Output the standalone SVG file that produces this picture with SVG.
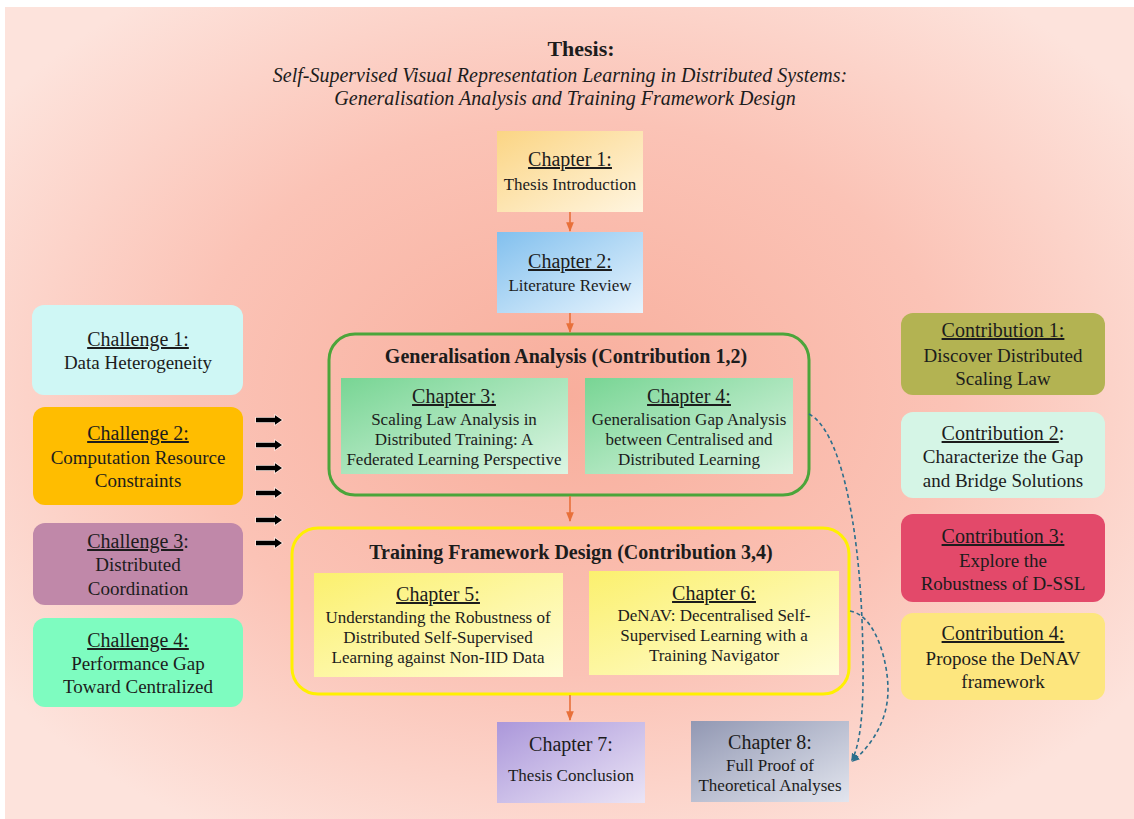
<svg xmlns="http://www.w3.org/2000/svg" width="1134" height="819" viewBox="0 0 1134 819">
  <defs>
    <radialGradient id="bg" cx="50%" cy="48%" r="62%">
      <stop offset="0" stop-color="#f8ae9c"/>
      <stop offset="0.55" stop-color="#fbc3b6"/>
      <stop offset="1" stop-color="#fde3dc"/>
    </radialGradient>
    <linearGradient id="gCh1" x1="0" y1="0" x2="1" y2="1">
      <stop offset="0" stop-color="#fbd584"/>
      <stop offset="1" stop-color="#fff5e0"/>
    </linearGradient>
    <linearGradient id="gCh2" x1="0" y1="0" x2="1" y2="1">
      <stop offset="0" stop-color="#82c0ee"/>
      <stop offset="1" stop-color="#e8f4fd"/>
    </linearGradient>
    <linearGradient id="gGreen" x1="0" y1="0" x2="1" y2="1">
      <stop offset="0" stop-color="#78d594"/>
      <stop offset="1" stop-color="#dcf5e3"/>
    </linearGradient>
    <linearGradient id="gYellow" x1="0" y1="0" x2="1" y2="1">
      <stop offset="0" stop-color="#fbf06e"/>
      <stop offset="1" stop-color="#fffdd6"/>
    </linearGradient>
    <linearGradient id="gCh7" x1="0" y1="0" x2="1" y2="1">
      <stop offset="0" stop-color="#ab97da"/>
      <stop offset="1" stop-color="#ebe5f6"/>
    </linearGradient>
    <linearGradient id="gCh8" x1="0" y1="0" x2="1" y2="1">
      <stop offset="0" stop-color="#9298b3"/>
      <stop offset="1" stop-color="#e2e5ee"/>
    </linearGradient>
    <marker id="mOrange" viewBox="0 0 10 10" refX="9" refY="5" markerWidth="6" markerHeight="6" orient="auto">
      <path d="M0,1 L10,5 L0,9 z" fill="#e8703a"/>
    </marker>
    <marker id="mTeal" viewBox="0 0 10 10" refX="8" refY="5" markerWidth="5" markerHeight="5" orient="auto">
      <path d="M0,1 L10,5 L0,9 z" fill="#2d6f8c"/>
    </marker>
    <!-- short block arrow used beside the challenges -->
    <path id="pushArrow" d="M0,-2.2 L19,-2.2 L19,-4.8 L26,0 L19,4.8 L19,2.2 L0,2.2 Z"/>
    <style>
      text { font-family: "Liberation Serif", "Times New Roman", serif; fill: #1c1c1c; text-anchor: middle; }
      .title { font-size: 22px; font-weight: bold; }
      .sub { font-size: 20px; font-style: italic; }
      .grp { font-size: 20px; font-weight: bold; }
      .hd { font-size: 20px; }
      .ul { text-decoration: underline; }
      .bd { font-size: 17px; }
      .side { font-size: 19px; }
      .box { stroke: none; }
      .frame { fill: none; stroke-width: 3; }
      .flow { stroke: #e8703a; stroke-width: 1.6; fill: none; marker-end: url(#mOrange); }
      .push { fill: #000; stroke: #fff4ef; stroke-width: 1.6; stroke-opacity: 0.8; paint-order: stroke; }
      .ref { stroke: #2d6f8c; stroke-width: 1.6; fill: none; stroke-dasharray: 4 3; marker-end: url(#mTeal); }
    </style>
  </defs>

  <!-- page background -->
  <rect x="0" y="0" width="1134" height="819" fill="#ffffff"/>
  <rect x="5" y="7" width="1129" height="812" fill="url(#bg)"/>

  <!-- heading -->
  <g id="heading">
    <text class="title" x="581" y="56">Thesis:</text>
    <text class="sub" x="560" y="82">Self-Supervised Visual Representation Learning in Distributed Systems:</text>
    <text class="sub" x="565" y="105">Generalisation Analysis and Training Framework Design</text>
  </g>

  <!-- group frames -->
  <g id="generalisation-analysis">
    <rect class="frame" x="329" y="334" width="480" height="161" rx="26" stroke="#4ba53a"/>
    <text class="grp" x="566" y="363">Generalisation Analysis (Contribution 1,2)</text>
  </g>
  <g id="training-framework-design">
    <rect class="frame" x="292" y="528" width="557" height="166" rx="26" stroke="#fff000"/>
    <text class="grp" x="571" y="559">Training Framework Design (Contribution 3,4)</text>
  </g>

  <!-- chapters -->
  <g id="chapter1">
    <rect class="box" x="497" y="131" width="146" height="81" fill="url(#gCh1)"/>
    <text class="hd ul" x="570" y="166">Chapter 1:</text>
    <text class="bd" x="570" y="190">Thesis Introduction</text>
  </g>
  <g id="chapter2">
    <rect class="box" x="497" y="232" width="146" height="81" fill="url(#gCh2)"/>
    <text class="hd ul" x="570" y="268">Chapter 2:</text>
    <text class="bd" x="570" y="291">Literature Review</text>
  </g>
  <g id="chapter3">
    <rect class="box" x="341" y="378" width="227" height="96" fill="url(#gGreen)"/>
    <text class="hd ul" x="454" y="403">Chapter 3:</text>
    <text class="bd" x="454" y="425">Scaling Law Analysis in</text>
    <text class="bd" x="454" y="445">Distributed Training: A</text>
    <text class="bd" x="454" y="465">Federated Learning Perspective</text>
  </g>
  <g id="chapter4">
    <rect class="box" x="585" y="378" width="208" height="96" fill="url(#gGreen)"/>
    <text class="hd ul" x="689" y="403">Chapter 4:</text>
    <text class="bd" x="689" y="425">Generalisation Gap Analysis</text>
    <text class="bd" x="689" y="445">between Centralised and</text>
    <text class="bd" x="689" y="465">Distributed Learning</text>
  </g>
  <g id="chapter5">
    <rect class="box" x="314" y="573" width="249" height="104" fill="url(#gYellow)"/>
    <text class="hd ul" x="438" y="601">Chapter 5:</text>
    <text class="bd" x="438" y="623">Understanding the Robustness of</text>
    <text class="bd" x="438" y="643">Distributed Self-Supervised</text>
    <text class="bd" x="438" y="663">Learning against Non-IID Data</text>
  </g>
  <g id="chapter6">
    <rect class="box" x="589" y="571" width="250" height="104" fill="url(#gYellow)"/>
    <text class="hd ul" x="714" y="600">Chapter 6:</text>
    <text class="bd" x="714" y="621">DeNAV: Decentralised Self-</text>
    <text class="bd" x="714" y="641">Supervised Learning with a</text>
    <text class="bd" x="714" y="661">Training Navigator</text>
  </g>
  <g id="chapter7">
    <rect class="box" x="497" y="722" width="148" height="81" fill="url(#gCh7)"/>
    <text class="hd" x="571" y="751">Chapter 7:</text>
    <text class="bd" x="571" y="781">Thesis Conclusion</text>
  </g>
  <g id="chapter8">
    <rect class="box" x="691" y="721" width="158" height="81" fill="url(#gCh8)"/>
    <text class="hd" x="770" y="749">Chapter 8:</text>
    <text class="bd" x="770" y="771">Full Proof of</text>
    <text class="bd" x="770" y="791">Theoretical Analyses</text>
  </g>

  <!-- challenges -->
  <g id="challenge1">
    <rect class="box" x="32" y="305" width="211" height="90" rx="12" fill="#cff7f5"/>
    <text class="hd ul" x="138" y="346">Challenge 1:</text>
    <text class="side" x="138" y="369">Data Heterogeneity</text>
  </g>
  <g id="challenge2">
    <rect class="box" x="33" y="407" width="210" height="98" rx="12" fill="#ffbd00"/>
    <text class="hd ul" x="138" y="440">Challenge 2:</text>
    <text class="side" x="138" y="464">Computation Resource</text>
    <text class="side" x="138" y="487">Constraints</text>
  </g>
  <g id="challenge3">
    <rect class="box" x="33" y="523" width="210" height="82" rx="12" fill="#c088a9"/>
    <text class="hd" x="138" y="548"><tspan class="ul">Challenge 3</tspan>:</text>
    <text class="side" x="138" y="571">Distributed</text>
    <text class="side" x="138" y="595">Coordination</text>
  </g>
  <g id="challenge4">
    <rect class="box" x="33" y="618" width="210" height="89" rx="12" fill="#7efcc0"/>
    <text class="hd ul" x="138" y="647">Challenge 4:</text>
    <text class="side" x="138" y="670">Performance Gap</text>
    <text class="side" x="138" y="693">Toward Centralized</text>
  </g>

  <!-- contributions -->
  <g id="contribution1">
    <rect class="box" x="901" y="313" width="204" height="82" rx="12" fill="#b3b352"/>
    <text class="hd ul" x="1003" y="337">Contribution 1:</text>
    <text class="side" x="1003" y="362">Discover Distributed</text>
    <text class="side" x="1003" y="385">Scaling Law</text>
  </g>
  <g id="contribution2">
    <rect class="box" x="901" y="412" width="204" height="86" rx="12" fill="#d5f5e6"/>
    <text class="hd" x="1003" y="440"><tspan class="ul">Contribution 2</tspan>:</text>
    <text class="side" x="1003" y="463">Characterize the Gap</text>
    <text class="side" x="1003" y="487">and Bridge Solutions</text>
  </g>
  <g id="contribution3">
    <rect class="box" x="901" y="514" width="204" height="88" rx="12" fill="#e3496a"/>
    <text class="hd ul" x="1003" y="543">Contribution 3:</text>
    <text class="side" x="1003" y="567">Explore the</text>
    <text class="side" x="1003" y="590">Robustness of D-SSL</text>
  </g>
  <g id="contribution4">
    <rect class="box" x="901" y="613" width="204" height="87" rx="12" fill="#fde67e"/>
    <text class="hd ul" x="1003" y="640">Contribution 4:</text>
    <text class="side" x="1003" y="665">Propose the DeNAV</text>
    <text class="side" x="1003" y="688">framework</text>
  </g>

  <!-- connectors -->
  <g id="connectors">
    <line class="flow" x1="570" y1="212" x2="570" y2="231"/>
    <line class="flow" x1="570" y1="313" x2="570" y2="332"/>
    <line class="flow" x1="570" y1="496" x2="570" y2="521"/>
    <line class="flow" x1="570" y1="695" x2="570" y2="720"/>

    <g id="challenge-arrows">
      <use href="#pushArrow" class="push" x="256" y="420"/>
      <use href="#pushArrow" class="push" x="256" y="445"/>
      <use href="#pushArrow" class="push" x="256" y="468"/>
      <use href="#pushArrow" class="push" x="256" y="493"/>
      <use href="#pushArrow" class="push" x="256" y="520"/>
      <use href="#pushArrow" class="push" x="256" y="543"/>
    </g>

    <path class="ref" d="M809,414 C840,430 858,520 862,620 C865,700 862,740 852,760"/>
    <path class="ref" d="M850,611 C875,615 888,660 888,690 C888,720 872,745 853,761"/>
  </g>
</svg>
